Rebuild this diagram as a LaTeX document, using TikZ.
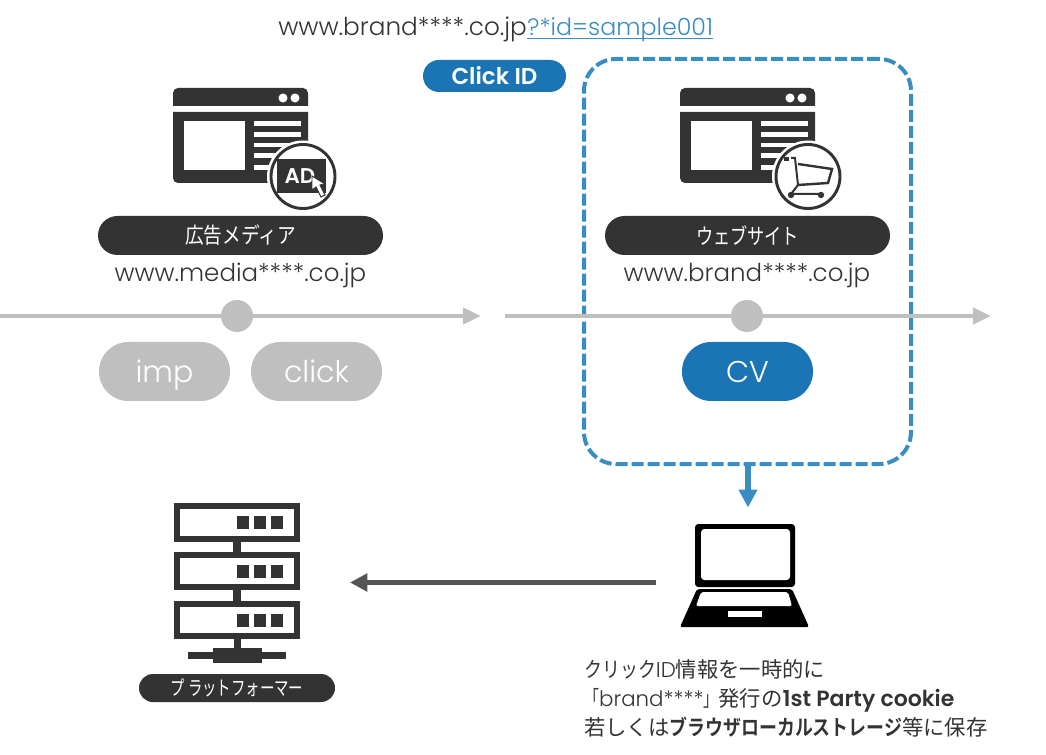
\documentclass[tikz,border=0pt]{standalone}
\usepackage{fontspec}
\usetikzlibrary{arrows.meta,calc}
\setmainfont{Poppins}[UprightFont=* Light,BoldFont=* SemiBold]
\newfontfamily\jp{Noto Sans CJK JP}[BoldFont=* Bold]
\newcommand{\fsz}[1]{\fontsize{#1}{#1}\selectfont}
\definecolor{dk}{HTML}{333333}
\definecolor{gy}{HTML}{BFBFBF}
\definecolor{bl}{HTML}{1B75B5}
\definecolor{dbl}{HTML}{3A8DC2}
\tikzset{
 pill/.style={rounded corners=19.4pt,inner sep=0,anchor=center,align=center},
 greypill/.style={pill,fill=gy,text=white,minimum width=98.25pt,minimum height=44.25pt,rounded corners=22pt,font=\fsz{22.5},text height=17pt,text depth=0pt},
 darkpill/.style={pill,fill=dk,text=white,minimum width=213.75pt,minimum height=29.25pt,rounded corners=14.6pt},
 urltext/.style={text=dk,inner sep=0,font=\fsz{18.4}},
 axisline/.style={line width=3.4pt,gy,-{Triangle[length=13.5pt,width=12pt]}},
 dotmark/.style={circle,fill=gy,minimum size=24pt,inner sep=0},
 ico/.style={fill=dk,draw=none},
 whitefill/.style={fill=white,draw=none},
 srv/.style={draw=dk,line width=4.6pt,fill=white}
}
\newcommand{\browser}[1]{%
 \begin{scope}[shift={(#1,0)}]
  \fill[ico] (173,106) -- (173,93) to[out=90,in=180] (178,88) -- (303,88) to[out=0,in=90] (308,93) -- (308,106) -- cycle;
  \fill[ico] (173,112) -- (173,178) to[out=-90,in=180] (178,183) -- (303,183) to[out=0,in=-90] (308,178) -- (308,112) -- cycle;
  \fill[whitefill] (184,121) rectangle (245,170);
  \foreach \yy/\yb in {121/126,132/137,143/147.5,153/158,165/170}
    \fill[whitefill] (254,\yy) rectangle (301,\yb);
  \fill[whitefill] (283,98) circle[radius=3.4pt] (295,98) circle[radius=3.4pt];
 \end{scope}}
\begin{document}
\begin{tikzpicture}[x=0.75pt,y=-0.75pt]
\useasboundingbox (0,0) rectangle (1046,755);
% top url
\node[urltext,anchor=base west,font=\fsz{18.55}] (urla) at (278,36) {www.brand****.co.jp};
\node[inner sep=0,anchor=base west,text=dbl,font=\fsz{17.8}] (urlb) at (urla.base east) {\underline{\smash{?*id=sample001}}};
% click id
\node[pill,fill=bl,text=white,minimum width=107.25pt,minimum height=24pt,rounded corners=12pt,font=\fsz{17.2}\bfseries] (clickid) at (494.5,76) {Click ID};
% dashed box
\node[draw=dbl,line width=3pt,dash pattern=on 9pt off 3pt,rounded corners=24pt,minimum width=245.25pt,minimum height=303.75pt,inner sep=0] (box) at (747.5,261.5) {};
% browsers
\browser{0}
\browser{507}
% AD circle
\fill[white] (303,176.5) circle[radius=27pt];
\draw[dk,line width=2.2pt,fill=white] (303,176.5) circle[radius=24pt];
\fill[dk] (277,159) rectangle (326,193);
\node[text=white,inner sep=0,font=\fsz{16}\bfseries] (adtext) at (300,176.5) {AD};
\draw[fill=white,draw=dk,line width=0.7pt] (312,176) -- (312,190) -- (316,187) -- (321,197) -- (325,195) -- (320,185) -- (325,184) -- cycle;
% cart circle
\fill[white] (808,176.5) circle[radius=27pt];
\draw[dk,line width=2.2pt,fill=white] (808,176.5) circle[radius=24pt];
\fill[dk] (784,157) rectangle (789,161);
\draw[dk,line width=1.5pt] (791,158) -- (795,158) -- (798,185) -- (791,194) -- (822,194);
\draw[dk,line width=1.8pt] (798,164) -- (832,169) -- (828,183) -- (798,185);
\fill[dk] (791,195) circle[radius=2.4pt] (821,195) circle[radius=2.4pt];
% pills
\node[darkpill] (media) at (240.5,235.5) {\jp\fsz{16.5}\scalebox{0.85}[1]{広告メディア}};
\node[darkpill] (site) at (747.5,235.5) {\jp\fsz{16.5}\scalebox{0.78}[1]{ウェブサイト}};
\node[urltext] (mediaurl) at (240.5,275.5) {www.media****.co.jp};
\node[urltext] (siteurl) at (747,275.5) {www.brand****.co.jp};
% axes
\coordinate (la) at (0,316); \coordinate (lb) at (481,316);
\coordinate (ra) at (505,316); \coordinate (rb) at (991,316);
\draw[axisline] (la) -- (lb);
\draw[axisline] (ra) -- (rb);
\node[dotmark] (dotl) at (237,316) {};
\node[dotmark] (dotr) at (747,316) {};
\node[greypill] (imp) at (164.5,371.5) {imp};
\node[greypill] (click) at (316.5,371.5) {click};
\node[greypill,fill=bl] (cv) at (747.5,371.5) {CV};
% laptop
\fill[black,rounded corners=2.5pt] (695,524) rectangle (795,587);
\fill[white,rounded corners=2.5pt] (701,529) rectangle (790,580);
\fill[black,rounded corners=1.5pt] (697,589) -- (792,589) -- (809,627) -- (680,627) -- cycle;
\fill[white,rounded corners=1.5pt] (701,592) -- (788,592) -- (792,606) -- (696,606) -- cycle;
\fill[white] (728,611) rectangle (762,617);
\node[inner sep=0,minimum width=97.5pt,minimum height=77pt] (laptop) at (745,575.5) {};
% server
\node[srv,minimum width=90pt,minimum height=24.5pt,inner sep=0] (s1) at (237,522.5) {};
\node[srv,minimum width=90pt,minimum height=24.5pt,inner sep=0] (s2) at (237,571) {};
\node[srv,minimum width=90pt,minimum height=24.5pt,inner sep=0] (s3) at (237,620) {};
\foreach \yy in {516,565,614} \foreach \xx in {237,254,271}
  \fill[dk] (\xx,\yy) rectangle ++(12,12.5);
\draw[dk,line width=5.5pt] (s1) -- (s2);
\draw[dk,line width=5.5pt] (s2) -- (s3);
\fill[dk] (233.5,639) rectangle (240.5,648);
\fill[dk] (188,652) rectangle (286,659);
\fill[dk] (213,648) rectangle (262,663);
\node[darkpill,minimum width=147pt,minimum height=21pt,rounded corners=10.5pt] (plat) at (237,688) {\jp\fsz{15}\scalebox{0.72}[1]{プ\hspace{3pt}ラットフォーマー}};
% arrows
\coordinate (down) at (748,507.5);
\coordinate (leftend) at (350,582.5);
\coordinate (leftstart) at (655.5,582.5);
\draw[dbl,line width=4.5pt,-{Triangle[length=13.5pt,width=13.5pt]}] (box.south -| down) -- (down);
\draw[black!67,line width=3.4pt,-{Triangle[length=13pt,width=13pt]}] (leftstart) -- (leftend);
% caption
\node[inner sep=0,anchor=base west,text=dk] (c1) at (584,677) {\fsz{16}\jp\scalebox{0.84}[1]{クリック}\rmfamily ID\jp 情報を一時的に};
\node[inner sep=0,anchor=base west,text=dk] (c2) at (584,706) {\fsz{16}\jp\scalebox{0.7}[1]{「}\rmfamily brand****\jp\scalebox{0.7}[1]{」}発行の\rmfamily\bfseries\fsz{16.5}1st Party cookie};
\node[inner sep=0,anchor=base west,text=dk] (c3) at (584,735) {\fsz{16}\jp 若しくは\bfseries\scalebox{0.84}[1]{ブラウザローカルストレージ}\mdseries 等に保存};
\end{tikzpicture}
\end{document}
